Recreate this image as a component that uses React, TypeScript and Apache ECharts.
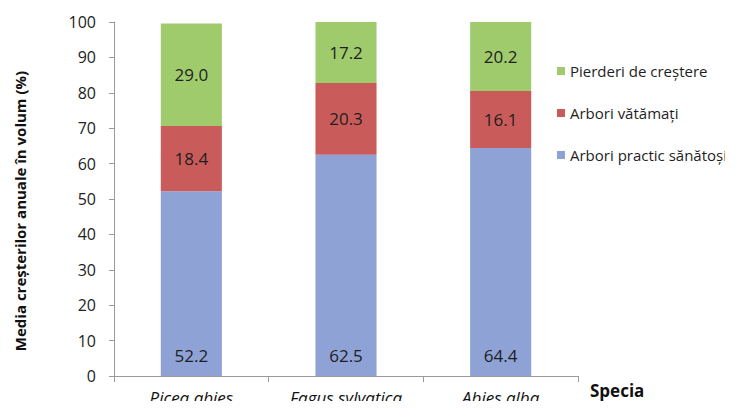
import React, { useEffect, useRef } from "react";
import * as echarts from "echarts";

const species = ["Picea abies", "Fagus sylvatica", "Abies alba"];
const healthy = [52.2, 62.5, 64.4];
const damaged = [18.4, 20.3, 16.1];
const losses = [29.0, 17.2, 20.2];
const yTicks = [0, 10, 20, 30, 40, 50, 60, 70, 80, 90, 100];

const seriesNames = {
  healthy: "Arbori practic sănătoși",
  damaged: "Arbori vătămați",
  losses: "Pierderi de creștere",
};

const FONT = "'Open Sans', 'Noto Sans', sans-serif";

export default function App() {
  const ref = useRef<HTMLDivElement>(null);

  useEffect(() => {
    if (!ref.current) return;
    const chart = echarts.init(ref.current, undefined, { renderer: "svg" });
    const labelStyle = {
      show: true,
      color: "#1e1e1e",
      fontFamily: FONT,
      fontSize: 17,
      formatter: (p: any) => Number(p.value).toFixed(1),
    };
    chart.setOption({
      animation: false,
      backgroundColor: "#ffffff",
      textStyle: { fontFamily: FONT },
      grid: { left: 114, right: 155, top: 22, bottom: 33, containLabel: false },
      legend: {
        orient: "vertical",
        left: 557,
        top: 63,
        padding: 0,
        itemWidth: 8,
        itemHeight: 8,
        itemGap: 26,
        icon: "rect",
        data: [seriesNames.losses, seriesNames.damaged, seriesNames.healthy],
        textStyle: { fontFamily: FONT, fontSize: 15, lineHeight: 16, color: "#1e1e1e" },
      },
      xAxis: {
        type: "category",
        data: species,
        axisLine: { lineStyle: { color: "#9a9a9a" } },
        axisTick: { show: true, length: 6, lineStyle: { color: "#9a9a9a" } },
        axisLabel: {
          interval: 0,
          fontFamily: FONT,
          fontSize: 17,
          lineHeight: 18,
          fontStyle: "italic",
          color: "#111",
          margin: 12,
        },
      },
      yAxis: {
        type: "value",
        min: 0,
        max: 100,
        interval: 10,
        splitLine: { show: false },
        axisLine: { show: true, lineStyle: { color: "#9a9a9a" } },
        axisTick: { show: true, length: 5, lineStyle: { color: "#9a9a9a" } },
        axisLabel: {
          fontFamily: FONT,
          fontSize: 16,
          color: "#222",
          margin: 18,
          formatter: (v: number) => (yTicks.includes(v) ? String(v) : ""),
        },
      },
      graphic: [
        {
          type: "text",
          x: 20,
          y: 211,
          rotation: Math.PI / 2,
          style: {
            text: "Media creșterilor anuale în volum (%)",
            font: `bold 15px ${FONT}`,
            fill: "#111",
            align: "center",
            verticalAlign: "middle",
          },
        },
        {
          type: "text",
          left: 590,
          top: 382,
          style: { text: "Specia", font: `bold 17px ${FONT}`, fill: "#111" },
        },
      ],
      series: [
        {
          name: seriesNames.healthy,
          type: "bar",
          stack: "total",
          barWidth: "39.5%",
          data: healthy,
          itemStyle: { color: "#8fa2d6" },
          label: { ...labelStyle, position: "insideBottom", distance: 12 },
        },
        {
          name: seriesNames.damaged,
          type: "bar",
          stack: "total",
          barWidth: "39.5%",
          data: damaged,
          itemStyle: { color: "#c95c5b" },
          label: { ...labelStyle, position: "inside" },
        },
        {
          name: seriesNames.losses,
          type: "bar",
          stack: "total",
          barWidth: "39.5%",
          data: losses,
          itemStyle: { color: "#a0cb6d" },
          label: { ...labelStyle, position: "inside" },
        },
      ],
    });
    return () => chart.dispose();
  }, []);

  return <div ref={ref} style={{ width: 733, height: 409, margin: -8 }} />;
}
